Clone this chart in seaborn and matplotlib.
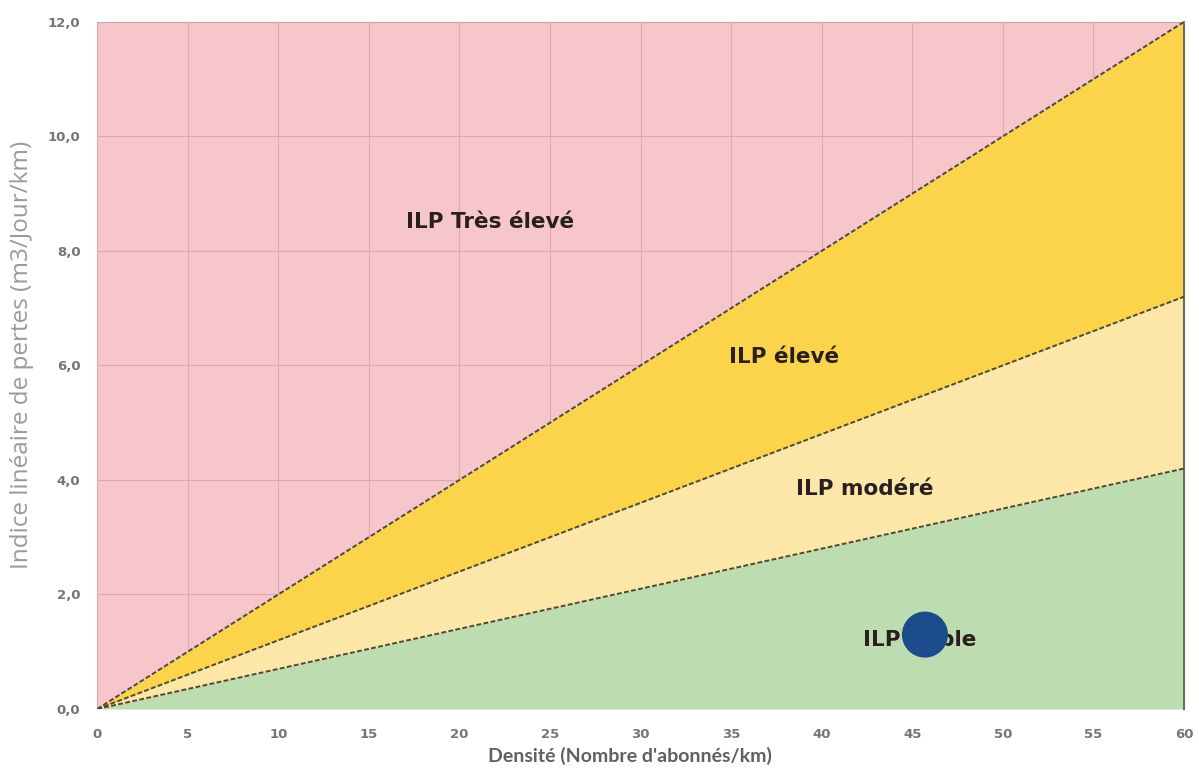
import matplotlib
matplotlib.use('Agg')
import matplotlib.pyplot as plt
import matplotlib.ticker as mticker
import seaborn as sns
import pandas as pd

# ========== 数据 ==========
densite = [0, 60]
seuil_tres_eleve = [0, 12.0]   # limite élevé / très élevé
seuil_eleve = [0, 7.2]         # limite modéré / élevé
seuil_modere = [0, 4.2]        # limite faible / modéré
y_max = 12.0

zones = ['ILP Très élevé', 'ILP élevé', 'ILP modéré', 'ILP faible']
zone_x = [21.7, 37.9, 42.4, 45.4]
zone_y = [8.5, 6.15, 3.85, 1.2]

point_x = [45.7]
point_y = [1.3]

# ========== 风格 ==========
sns.set_style('white')
plt.rcParams['font.family'] = ['Open Sans', 'DejaVu Sans']

C_ROSE = '#F7C6CB'
C_JAUNE = '#FCD44C'
C_JAUNE_CLAIR = '#FCE7A9'
C_VERT = '#BDDDB1'
C_LIGNE = '#4d4a33'

fig = plt.figure(figsize=(11.99, 7.8), dpi=100)
ax = fig.add_axes([0.081, 0.091, 0.9065, 0.881])
ax.set_facecolor(C_ROSE)

df = pd.DataFrame({'densite': densite, 'haut': seuil_tres_eleve,
                   'milieu': seuil_eleve, 'bas': seuil_modere})

# zones colorées
ax.fill_between(df['densite'], df['milieu'], df['haut'], color=C_JAUNE, zorder=1, lw=0)
ax.fill_between(df['densite'], df['bas'], df['milieu'], color=C_JAUNE_CLAIR, zorder=1, lw=0)
ax.fill_between(df['densite'], 0, df['bas'], color=C_VERT, zorder=1, lw=0)

# limites
for col in ['haut', 'milieu', 'bas']:
    sns.lineplot(data=df, x='densite', y=col, ax=ax, color=C_LIGNE, lw=1.4,
                 linestyle=(0, (2.5, 1.2)), zorder=3)

# grille
ax.grid(True, color='#d9a9ae', lw=0.8, zorder=0)
ax.set_axisbelow(True)

for nom, x, y in zip(zones, zone_x, zone_y):
    ax.text(x, y, nom, ha='center', va='center', fontsize=15.5,
            fontweight='bold', color='#2a1f1f', family='DejaVu Sans', zorder=4)

sns.scatterplot(x=point_x, y=point_y, ax=ax, s=1100, color='#1C4C8C',
                edgecolor='none', zorder=5)

ax.set_xlim(0, 60)
ax.set_ylim(0, y_max)
ax.set_xticks(range(0, 61, 5))
ax.set_yticks([0, 2, 4, 6, 8, 10, 12])
ax.yaxis.set_major_formatter(mticker.FuncFormatter(lambda v, p: f'{v:.1f}'.replace('.', ',')))
ax.tick_params(axis='both', length=0, labelsize=9.5, labelcolor='#757575')
ax.tick_params(axis='x', pad=14)
ax.tick_params(axis='y', pad=12)
for lab in ax.get_xticklabels() + ax.get_yticklabels():
    lab.set_fontweight('bold')
    lab.set_family('DejaVu Sans')

ax.set_xlabel("Densité (Nombre d'abonnés/km)", fontsize=14, fontweight='bold',
              family=['Lato', 'DejaVu Sans'], color='#606060')
ax.xaxis.set_label_coords(0.49, -0.055)
ax.set_ylabel('Indice linéaire de pertes (m3/Jour/km)', fontsize=17.5, color='#9a9a9a')
ax.yaxis.set_label_coords(-0.058, 0.515)

for s in ['left', 'bottom']:
    ax.spines[s].set_visible(False)
ax.spines['top'].set_color('#c9a3a6')
ax.spines['right'].set_color('#6b6b5a')
ax.spines['right'].set_linewidth(1.5)

fig.savefig('out.png', dpi=100)
